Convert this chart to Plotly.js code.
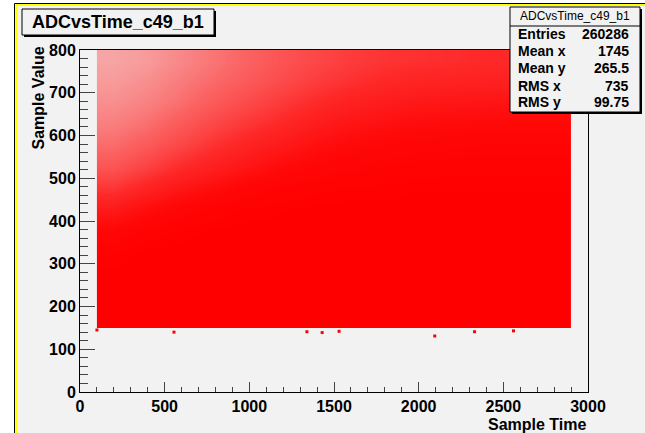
<!DOCTYPE html>
<html><head><meta charset="utf-8">
<script src="https://cdn.plot.ly/plotly-3.0.1.min.js"></script>
<style>html,body{margin:0;padding:0;background:#fff}#chart{width:645px;height:433px}</style>
</head><body><div id="chart"></div>
<script>
// ---- data ----
const histName = 'ADCvsTime_c49_b1';
const xTitle = 'Sample Time';
const yTitle = 'Sample Value';
// centres of 200-wide time bins (data spans 100..2900)
const timeBinCenters = [200, 400, 600, 800, 1000, 1200, 1400, 1600, 1800, 2000, 2200, 2400, 2600, 2800];
// centres of 50-wide value bins (data spans 150..800)
const valueBinCenters = [175, 225, 275, 325, 375, 425, 475, 525, 575, 625, 675, 725, 775];
// fraction of each cell covered by red points (estimated by eye), rows bottom -> top
const coverage150 = [1, 1, 1, 1, 1, 1, 1, 1, 1, 1, 1, 1, 1, 1];
const coverage200 = [1, 1, 1, 1, 1, 1, 1, 1, 1, 1, 1, 1, 1, 1];
const coverage250 = [1, 1, 1, 1, 1, 1, 1, 1, 1, 1, 1, 1, 1, 1];
const coverage300 = [0.97, 1, 1, 1, 1, 1, 1, 1, 1, 1, 1, 1, 1, 1];
const coverage350 = [0.88, 0.95, 0.98, 1, 1, 1, 1, 1, 1, 1, 1, 1, 1, 1];
const coverage400 = [0.72, 0.82, 0.9, 0.95, 0.98, 0.99, 1, 1, 1, 1, 1, 1, 1, 1];
const coverage450 = [0.55, 0.65, 0.75, 0.83, 0.9, 0.94, 0.96, 0.98, 0.98, 0.99, 0.99, 0.99, 0.99, 0.99];
const coverage500 = [0.42, 0.5, 0.6, 0.68, 0.76, 0.84, 0.89, 0.92, 0.94, 0.95, 0.96, 0.96, 0.96, 0.96];
const coverage550 = [0.33, 0.4, 0.48, 0.57, 0.65, 0.72, 0.8, 0.85, 0.88, 0.9, 0.91, 0.92, 0.92, 0.92];
const coverage600 = [0.27, 0.32, 0.4, 0.48, 0.55, 0.62, 0.7, 0.76, 0.8, 0.83, 0.84, 0.85, 0.86, 0.86];
const coverage650 = [0.22, 0.26, 0.32, 0.4, 0.46, 0.53, 0.6, 0.66, 0.7, 0.73, 0.75, 0.76, 0.77, 0.77];
const coverage700 = [0.18, 0.22, 0.28, 0.34, 0.4, 0.46, 0.52, 0.57, 0.61, 0.64, 0.65, 0.66, 0.67, 0.67];
const coverage750 = [0.15, 0.18, 0.24, 0.3, 0.36, 0.42, 0.47, 0.52, 0.55, 0.57, 0.58, 0.6, 0.6, 0.6];
// isolated points below the dense band
const lowPointTime = [100, 555, 1340, 1430, 1530, 2095, 2330, 2560];
const lowPointValue = [145, 140, 141, 139, 142, 131, 141, 143];
// stats box
const statsLabels = ['Entries', 'Mean x', 'Mean y', 'RMS x', 'RMS y'];
const statsValues = ['260286', '1745', '265.5', '735', '99.75'];
const statsRowY = [34, 51, 68, 86, 102];

// ---- layout helpers (pixel -> paper) ----
const L = 80, T = 50, W = 508, H = 342;
const px = x => (x - L) / W;
const py = y => (T + H - y) / H;
const FAM = 'Liberation Sans, Arial, sans-serif';
const tickFont = {family: FAM, size: 16, color: '#000', weight: 700};
const titleFont = {family: FAM, size: 16, color: '#000', weight: 700};

const traces = [
  {
    type: 'heatmap',
    x: timeBinCenters,
    y: valueBinCenters,
    z: [coverage150, coverage200, coverage250, coverage300, coverage350, coverage400, coverage450,
        coverage500, coverage550, coverage600, coverage650, coverage700, coverage750],
    zmin: 0, zmax: 1,
    zsmooth: 'best',
    colorscale: [[0, '#f2f2f2'], [0.15, '#f7a4a4'], [0.35, '#fb6464'], [0.6, '#fe2828'], [0.85, '#ff0808'], [1, '#ff0000']],
    showscale: false,
    hoverinfo: 'skip'
  },
  {
    type: 'scatter', mode: 'markers',
    x: lowPointTime, y: lowPointValue,
    marker: {symbol: 'square', size: 3, color: '#ff0000'},
    hoverinfo: 'skip'
  }
];

const shapes = [
  // canvas frame
  {type: 'rect', xref: 'paper', yref: 'paper', x0: px(14.5), y0: py(3.5), x1: px(700), y1: py(500),
   fillcolor: '#f2f2f2', line: {color: '#000', width: 1}, layer: 'below'},
  {type: 'line', xref: 'paper', yref: 'paper', x0: px(16.5), y0: py(5), x1: px(16.5), y1: py(500),
   line: {color: '#ffff00', width: 2}, layer: 'below'},
  {type: 'line', xref: 'paper', yref: 'paper', x0: px(16), y0: py(5), x1: px(700), y1: py(5),
   line: {color: '#ffff00', width: 2}, layer: 'below'},
  // title box with shadow
  {type: 'rect', xref: 'paper', yref: 'paper', x0: px(24), y0: py(11), x1: px(216), y1: py(37),
   fillcolor: '#000', line: {width: 0}, layer: 'above'},
  {type: 'rect', xref: 'paper', yref: 'paper', x0: px(22), y0: py(9), x1: px(214), y1: py(35),
   fillcolor: '#f2f2f2', line: {color: '#000', width: 1}, layer: 'above'},
  // stats box with shadow
  {type: 'rect', xref: 'paper', yref: 'paper', x0: px(512), y0: py(9), x1: px(642), y1: py(114),
   fillcolor: '#000', line: {width: 0}, layer: 'above'},
  {type: 'rect', xref: 'paper', yref: 'paper', x0: px(510), y0: py(7), x1: px(640), y1: py(112),
   fillcolor: '#f2f2f2', line: {color: '#000', width: 1}, layer: 'above'},
  {type: 'line', xref: 'paper', yref: 'paper', x0: px(510), y0: py(26), x1: px(640), y1: py(26),
   line: {color: '#000', width: 1}, layer: 'above'}
];

const annotations = [
  {xref: 'paper', yref: 'paper', x: px(118), y: py(22), text: histName, showarrow: false,
   xanchor: 'center', yanchor: 'middle', font: {family: FAM, size: 18, color: '#000', weight: 700}},
  {xref: 'paper', yref: 'paper', x: px(575), y: py(16), text: histName, showarrow: false,
   xanchor: 'center', yanchor: 'middle', font: {family: FAM, size: 12, color: '#000'}},
  {xref: 'paper', yref: 'paper', x: px(589), y: py(414), text: xTitle, showarrow: false,
   xanchor: 'right', yanchor: 'top', font: titleFont},
  {xref: 'paper', yref: 'paper', x: px(38), y: py(45), text: yTitle, showarrow: false, textangle: -90,
   xanchor: 'center', yanchor: 'top', font: titleFont}
];
statsLabels.forEach((lab, i) => {
  annotations.push({xref: 'paper', yref: 'paper', x: px(516), y: py(statsRowY[i]), text: lab, showarrow: false,
    xanchor: 'left', yanchor: 'middle', font: {family: FAM, size: 14, color: '#000', weight: 700}});
  annotations.push({xref: 'paper', yref: 'paper', x: px(631), y: py(statsRowY[i]), text: statsValues[i], showarrow: false,
    xanchor: 'right', yanchor: 'middle', font: {family: FAM, size: 14, color: '#000', weight: 700}});
});

const layout = {
  width: 645, height: 433,
  margin: {l: L, r: 645 - L - W, t: T, b: 433 - T - H, pad: 0},
  paper_bgcolor: '#ffffff',
  plot_bgcolor: 'rgba(0,0,0,0)',
  showlegend: false,
  xaxis: {
    range: [0, 3000], tick0: 0, dtick: 500, ticks: 'inside', ticklen: 10, tickcolor: '#444', tickwidth: 1,
    minor: {dtick: 100, ticks: 'inside', ticklen: 5, tickcolor: '#444', tickwidth: 1, showgrid: false},
    showline: true, linecolor: '#000', linewidth: 1, mirror: true, showgrid: false, zeroline: false,
    tickfont: tickFont, fixedrange: true
  },
  yaxis: {
    range: [0, 800], tick0: 0, dtick: 100, ticks: 'inside', ticklen: 15, tickcolor: '#444', tickwidth: 1,
    minor: {dtick: 20, ticks: 'inside', ticklen: 8, tickcolor: '#444', tickwidth: 1, showgrid: false},
    showline: true, linecolor: '#000', linewidth: 1, mirror: true, showgrid: false, zeroline: false,
    tickfont: tickFont, fixedrange: true
  },
  shapes: shapes,
  annotations: annotations
};

Plotly.newPlot('chart', traces, layout, {displayModeBar: false, staticPlot: true});
</script>
</body></html>
